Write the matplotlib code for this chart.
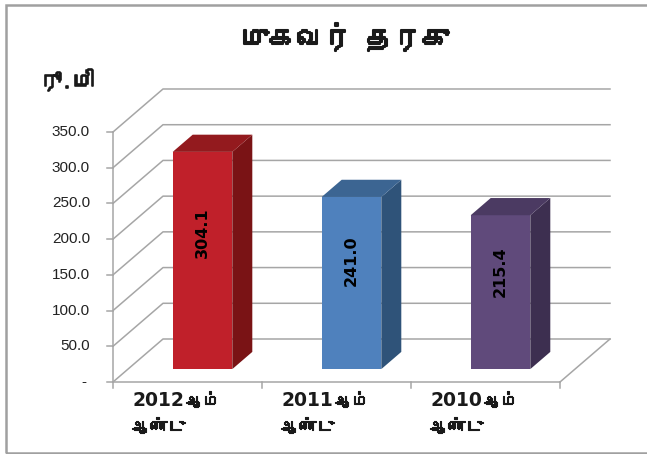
import numpy as np
import matplotlib
matplotlib.use('Agg')
import matplotlib.pyplot as plt
import matplotlib.patheffects as pe
from matplotlib import font_manager
from matplotlib.ft2font import FT2Font
from matplotlib.patches import Polygon, Rectangle

# data
years = ['2012', '2011', '2010']
year_suffix = 'ஆம்'
year_word = 'ஆண்டு'
values = [304.1, 241.0, 215.4]
y_ticks = [0, 50, 100, 150, 200, 250, 300, 350]
title = 'முகவர் தரகு'
unit = 'ரூ.மி'

# bar colours: front, side, top
front_cols = ['#C0202A', '#4F81BD', '#604A7B']
side_cols = ['#7A1315', '#2F5379', '#3D2F50']
top_cols = ['#931A1E', '#3C6592', '#4B3A62']


# look for any installed font that has tamil letters
def tamil_families():
    found = []
    for f in font_manager.fontManager.ttflist:
        try:
            cmap = FT2Font(f.fname).get_charmap()
        except Exception:
            continue
        if 0x0B95 in cmap and 0x0BCD in cmap and f.name not in found:
            found.append(f.name)
    return found


tam = tamil_families()
fam_t = tam + ['DejaVu Sans']


# thicker strokes so the tamil text looks bold
def heavy(w):
    return [pe.withStroke(linewidth=w, foreground='#1a1a1a')]


# depth of the fake 3d box (data units)
DX = 50 / 149
DY = 43 / 0.7143
bar_w = 0.40
grid_col = '#A6A6A6'

fig = plt.figure(figsize=(6.47, 4.54), dpi=100)
ax = fig.add_axes([113 / 647, 72 / 454, (149 * (3 + DX)) / 647, (0.7143 * (350 + DY)) / 454])
ax.set_xlim(-0.5, 2.5 + DX)
ax.set_ylim(0, 350 + DY)
ax.axis('off')

x0 = -0.5
x1 = len(values) - 0.5

# gridlines on the side wall and back wall
for t in y_ticks:
    ax.plot([x0, x0 + DX, x1 + DX], [t, t + DY, t + DY], color=grid_col, lw=1.1, clip_on=False)
    ax.plot([x0 - 0.04, x0], [t, t], color=grid_col, lw=1.1, clip_on=False)
    lbl = '-' if t == 0 else f'{t:.1f}'
    ax.annotate(lbl, xy=(x0, t), xytext=(-23 if t else -27, 0), textcoords='offset pixels',
                ha='right', va='center', fontsize=11, color='#222222', family='Liberation Sans')

# front axis lines and floor
ax.plot([x0, x0], [0, y_ticks[-1]], color=grid_col, lw=1.1, clip_on=False)
ax.plot([x0, x1], [0, 0], color=grid_col, lw=1.1, clip_on=False)
ax.plot([x1, x1 + DX], [0, DY], color=grid_col, lw=1.1, clip_on=False)
for k in range(len(values) + 1):
    ax.plot([x0 + k, x0 + k], [0, -8], color=grid_col, lw=1.1, clip_on=False)

# bars
xs = np.arange(len(values))
fx = xs + 0.3 * DX
fy = 0.3 * DY
ax.bar(fx, values, width=bar_w, bottom=fy, color=front_cols, zorder=3)
for i, v in enumerate(values):
    l = fx[i] - bar_w / 2
    r = fx[i] + bar_w / 2
    top = fy + v
    side = Polygon([(r, fy), (r + 0.4 * DX, fy + 0.4 * DY), (r + 0.4 * DX, top + 0.4 * DY), (r, top)],
                   closed=True, facecolor=side_cols[i], edgecolor='none', zorder=3)
    lid = Polygon([(l, top), (r, top), (r + 0.4 * DX, top + 0.4 * DY), (l + 0.4 * DX, top + 0.4 * DY)],
                  closed=True, facecolor=top_cols[i], edgecolor='none', zorder=3)
    ax.add_patch(side)
    ax.add_patch(lid)
    ax.text(fx[i], fy + 0.63 * v, f'{v:.1f}', rotation=90, ha='center', va='center',
            fontsize=11.5, fontweight='bold', color='black', zorder=4)

# category labels (two lines)
for i, yr in enumerate(years):
    ax.annotate(yr, xy=(xs[i], 0), xytext=(-55, -24), textcoords='offset pixels',
                ha='left', va='baseline', fontsize=13.5, fontweight='bold', color='#1a1a1a',
                family='DejaVu Sans')
    ax.annotate(year_suffix, xy=(xs[i], 0), xytext=(-1, -24), textcoords='offset pixels',
                ha='left', va='baseline', fontsize=12, color='#1a1a1a',
                family=fam_t, path_effects=heavy(0.8))
    ax.annotate(year_word, xy=(xs[i], 0), xytext=(-55, -50), textcoords='offset pixels',
                ha='left', va='baseline', fontsize=12.5, color='#1a1a1a',
                family=fam_t, path_effects=heavy(0.8))

# title and unit
fig.text(345 / 647, 1 - 37 / 454, title, ha='center', va='center', fontsize=20, color='#1a1a1a',
         family=fam_t, path_effects=heavy(1.5))
fig.text(67 / 647, 1 - 80 / 454, unit, ha='center', va='center', fontsize=16, color='#1a1a1a',
         family=fam_t, path_effects=heavy(1.2))

# outer frame (right edge runs off the picture)
fig.patches.append(Rectangle((5.5 / 647, 1.5 / 454), 650 / 647, 447.5 / 454, transform=fig.transFigure,
                             fill=False, edgecolor='#A0A0A0', lw=1.8))

plt.savefig('out.png', dpi=100)
